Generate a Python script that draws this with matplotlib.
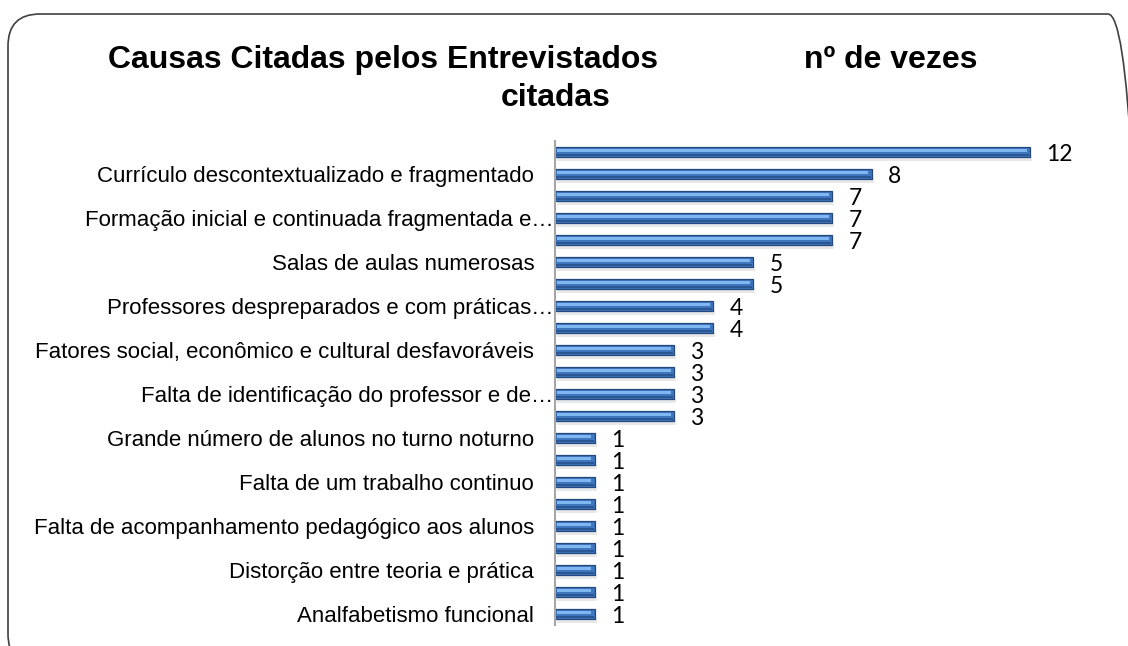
import matplotlib.pyplot as plt
import numpy as np
from matplotlib.patches import FancyBboxPatch

# ----------------------------
# Data (top to bottom)
# ----------------------------
values = [12, 8, 7, 7, 7, 5, 5, 4, 4, 3, 3, 3, 3, 1, 1, 1, 1, 1, 1, 1, 1, 1]

# only every other category shows its name
label_pos = [1, 3, 5, 7, 9, 11, 13, 15, 17, 19, 21]
labels = [
    "Currículo descontextualizado e fragmentado",
    "Formação inicial e continuada fragmentada e…",
    "Salas de aulas numerosas",
    "Professores despreparados e com práticas…",
    "Fatores social, econômico e cultural desfavoráveis",
    "Falta de identificação do professor e de…",
    "Grande número de alunos no turno noturno",
    "Falta de um trabalho continuo",
    "Falta de acompanhamento pedagógico aos alunos",
    "Distorção entre teoria e prática",
    "Analfabetismo funcional",
]

title_left = "Causas Citadas pelos Entrevistados"
title_right = "nº de vezes"
title_line2 = "citadas"

# ----------------------------
# Figure
# ----------------------------
plt.rcParams["font.family"] = ["Liberation Sans", "DejaVu Sans"]

fig = plt.figure(figsize=(11.28, 6.46), dpi=100)
ax = fig.add_axes([555 / 1128, 21 / 646, 554 / 1128, 484 / 646])

y = np.arange(len(values))
vals = np.array(values)

# soft shadow, main bar, light top band, dark bottom band
ax.barh(y + 0.3, vals, height=0.2, left=0.05, color="#bfbfbf", alpha=0.35, zorder=1)
ax.barh(y, vals, height=0.46, color="#3f76bf", edgecolor="#24487c", linewidth=0.9, zorder=2)
ax.barh(y - 0.07, vals - 0.12, height=0.15, left=0.04, color="#80b6f2", zorder=3)
ax.barh(y + 0.15, vals - 0.04, height=0.1, left=0.02, color="#2c5692", zorder=3)

for yi, v in zip(y, values):
    ax.text(v + 0.42, yi + 0.12, str(v), va="center", ha="left",
            fontsize=16.5, family=["Lato", "DejaVu Sans"], color="black")

ax.set_xlim(0, 14)
ax.set_ylim(len(values) - 0.5, -0.5)

ax.set_yticks(label_pos)
ax.set_yticklabels(labels, fontsize=16)
ax.tick_params(axis="y", length=0, pad=15)
# truncated labels run right up to the axis
for i, lab in enumerate(labels):
    if lab.endswith("…"):
        ax.yaxis.get_major_ticks()[i].set_pad(1)

ax.set_xticks([])
for s in ["top", "right", "bottom"]:
    ax.spines[s].set_visible(False)
ax.spines["left"].set_color("#a6a6a6")
ax.spines["left"].set_linewidth(1.5)

# ----------------------------
# Title
# ----------------------------
fig.text(108 / 1128, 1 - 60 / 646, title_left, fontsize=23, fontweight="bold",
         ha="left", va="center")
fig.text(978 / 1128, 1 - 60 / 646, title_right, fontsize=23, fontweight="bold",
         ha="right", va="center")
fig.text(556 / 1128, 1 - 98 / 646, title_line2, fontsize=23, fontweight="bold",
         ha="center", va="center")

# rounded chart border (runs off the right and bottom edges)
border = FancyBboxPatch((8, -20), 1132, 652,
                        boxstyle="round,pad=0,rounding_size=32",
                        transform=None, fill=False, edgecolor="#404040",
                        linewidth=1.2, clip_on=False)
fig.add_artist(border)

plt.savefig("out.png", dpi=100)
plt.close()
